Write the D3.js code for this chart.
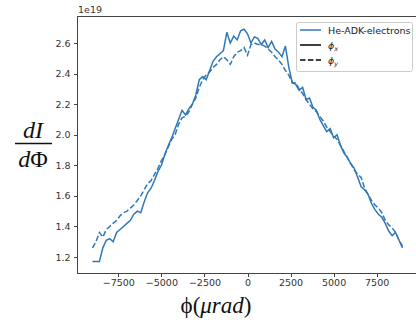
<!DOCTYPE html>
<head>
<meta charset="utf-8">
<script src="https://d3js.org/d3.v7.min.js"></script>
<style>
  body { margin: 0; background: #fff; }
  .axis path, .axis line { stroke: #444; stroke-width: 1; shape-rendering: crispEdges; }
  .axis text { fill: #333; font-family: "DejaVu Sans"; font-size: 9.5px; }
  .serif { font-family: "Liberation Serif", "DejaVu Serif", serif; fill: #111; }
</style>
</head>
<body>
<div id="container"></div>
<script>
// phi in urad, step 200
var phiStart = -9000, phiStep = 200;
// dI/dphi in units of 1e19
var phiX = [1.17, 1.17, 1.17, 1.26, 1.31, 1.32, 1.30, 1.36, 1.38, 1.40,
            1.42, 1.44, 1.48, 1.50, 1.49, 1.56, 1.62, 1.65, 1.70, 1.76,
            1.80, 1.87, 1.93, 1.98, 2.04, 2.10, 2.16, 2.13, 2.17, 2.20,
            2.26, 2.36, 2.38, 2.36, 2.42, 2.48, 2.51, 2.53, 2.55, 2.67,
            2.60, 2.645, 2.62, 2.68, 2.69, 2.66, 2.60, 2.64, 2.63, 2.59,
            2.62, 2.57, 2.61, 2.56, 2.54, 2.51, 2.58, 2.44, 2.34, 2.33,
            2.29, 2.31, 2.23, 2.24, 2.18, 2.16, 2.10, 2.06, 2.02, 2.04,
            1.98, 2.00, 1.93, 1.88, 1.85, 1.81, 1.78, 1.72, 1.66, 1.64,
            1.61, 1.55, 1.51, 1.48, 1.46, 1.42, 1.37, 1.34, 1.36, 1.31, 1.26];
var phiY = [1.26, 1.30, 1.36, 1.33, 1.38, 1.40, 1.42, 1.44, 1.47, 1.49,
            1.50, 1.52, 1.54, 1.57, 1.60, 1.64, 1.68, 1.70, 1.74, 1.78,
            1.83, 1.87, 1.92, 1.97, 2.00, 2.07, 2.11, 2.12, 2.15, 2.20,
            2.24, 2.31, 2.36, 2.39, 2.41, 2.44, 2.46, 2.49, 2.51, 2.49,
            2.46, 2.51, 2.54, 2.55, 2.57, 2.52, 2.59, 2.60, 2.59, 2.59,
            2.58, 2.56, 2.54, 2.51, 2.49, 2.46, 2.42, 2.39, 2.34, 2.34,
            2.30, 2.27, 2.23, 2.20, 2.17, 2.15, 2.12, 2.09, 2.05, 2.02,
            1.99, 1.97, 1.93, 1.89, 1.85, 1.81, 1.77, 1.74, 1.72, 1.65,
            1.61, 1.57, 1.54, 1.52, 1.49, 1.44, 1.41, 1.39, 1.36, 1.31, 1.27];
var xTicks = [-7500, -5000, -2500, 0, 2500, 5000, 7500];
var yTicks = [1.2, 1.4, 1.6, 1.8, 2.0, 2.2, 2.4, 2.6];
var blue = "#2f78b8";

var W = 416, H = 325;
var m = {left: 77, right: 418, top: 16, bottom: 273};

var svg = d3.select("#container").append("svg")
    .attr("width", W).attr("height", H);

var x = d3.scaleLinear().domain([-9900, 9900]).range([m.left, m.right]);
var y = d3.scaleLinear().domain([1.0954, 2.7766]).range([m.bottom, m.top]);

function pts(arr) {
  return arr.map(function(v, i) { return {p: phiStart + i * phiStep, v: v}; });
}
var line = d3.line().x(function(d) { return x(d.p); }).y(function(d) { return y(d.v); });

// top spine (right spine falls outside the picture)
svg.append("line").attr("x1", m.left).attr("x2", W).attr("y1", m.top + 0.5).attr("y2", m.top + 0.5)
  .attr("stroke", "#444").attr("stroke-width", 1);

svg.append("g").attr("class", "axis")
  .attr("transform", "translate(0," + m.bottom + ")")
  .call(d3.axisBottom(x).tickValues(xTicks).tickSize(3.5).tickSizeOuter(0).tickPadding(3)
    .tickFormat(function(d) { return d < 0 ? "\u2212" + Math.abs(d) : d; }));

svg.append("g").attr("class", "axis")
  .attr("transform", "translate(" + m.left + ",0)")
  .call(d3.axisLeft(y).tickValues(yTicks).tickSize(3.5).tickSizeOuter(0).tickPadding(3)
    .tickFormat(d3.format(".1f")));

svg.append("text").attr("x", m.left + 1).attr("y", 13)
  .style("font-family", "DejaVu Sans").style("font-size", "9.5px").style("fill", "#333")
  .text("1e19");

// curves
svg.append("path").datum(pts(phiX)).attr("d", line)
  .attr("fill", "none").attr("stroke", blue).attr("stroke-width", 1.5);
svg.append("path").datum(pts(phiY)).attr("d", line)
  .attr("fill", "none").attr("stroke", blue).attr("stroke-width", 1.5)
  .attr("stroke-dasharray", "5.5,2.4");

// legend
var lg = svg.append("g");
lg.append("rect").attr("x", 296.5).attr("y", 22.5).attr("width", 116).attr("height", 49)
  .attr("rx", 2).attr("fill", "#fff").attr("fill-opacity", 0.8).attr("stroke", "#ccc");
var entries = [{c: blue, d: null, t: "He-ADK-electrons", yy: 30},
               {c: "#000", d: null, t: "x", yy: 45},
               {c: "#000", d: "5.5,2.4", t: "y", yy: 60}];
entries.forEach(function(e, i) {
  lg.append("line").attr("x1", 300).attr("x2", 321).attr("y1", e.yy).attr("y2", e.yy)
    .attr("stroke", e.c).attr("stroke-width", 1.5).attr("stroke-dasharray", e.d);
  var t = lg.append("text").attr("x", 328).attr("y", e.yy + 3.5)
    .style("font-family", "DejaVu Sans").style("font-size", "9.5px").style("fill", "#222");
  if (i === 0) t.text(e.t);
  else {
    t.append("tspan").style("font-style", "italic").style("fill", "#222").text("\u03d5");
    t.append("tspan").attr("dy", 2).style("font-size", "6.5px").style("font-style", "italic")
      .style("fill", "#222").text(e.t);
  }
});

// y label: dI / dPhi
svg.append("text").attr("class", "serif").attr("x", 33).attr("y", 138)
  .attr("text-anchor", "middle").style("font-size", "24px").style("font-style", "italic").text("dI");
svg.append("line").attr("x1", 15).attr("x2", 52).attr("y1", 143.5).attr("y2", 143.5)
  .attr("stroke", "#111").attr("stroke-width", 1.3);
var dp = svg.append("text").attr("class", "serif").attr("x", 33).attr("y", 167)
  .attr("text-anchor", "middle").style("font-size", "24px");
dp.append("tspan").style("font-style", "italic").text("d");
dp.append("tspan").text("\u03a6");

// x label
var xl = svg.append("text").attr("class", "serif").attr("x", 216).attr("y", 313)
  .attr("text-anchor", "middle").style("font-size", "23px");
xl.append("tspan").text("\u03d5(");
xl.append("tspan").style("font-style", "italic").text("\u03bcrad");
xl.append("tspan").text(")");
</script>
</body>
